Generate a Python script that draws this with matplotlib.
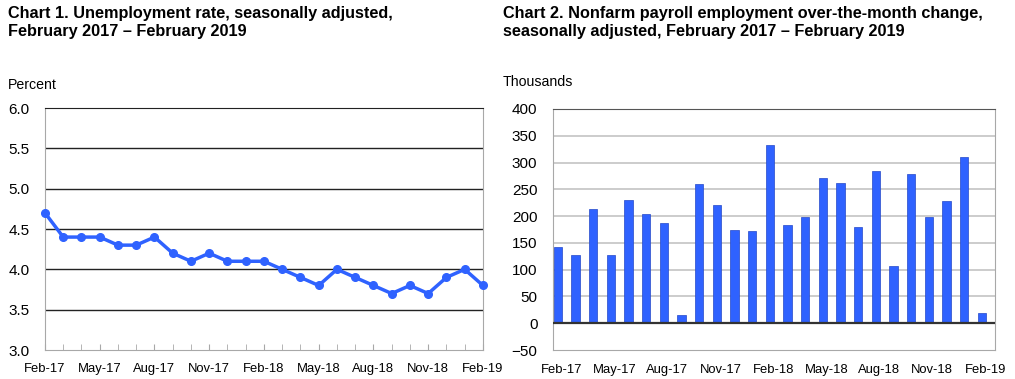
# BLS Employment Situation, Feb 2019: unemployment rate and payroll change.
import matplotlib.pyplot as plt
import numpy as np

plt.rcParams["font.family"] = ["Liberation Sans", "DejaVu Sans"]

MONTHS = [
    "Feb-17", "Mar-17", "Apr-17", "May-17", "Jun-17", "Jul-17", "Aug-17",
    "Sep-17", "Oct-17", "Nov-17", "Dec-17", "Jan-18", "Feb-18", "Mar-18",
    "Apr-18", "May-18", "Jun-18", "Jul-18", "Aug-18", "Sep-18", "Oct-18",
    "Nov-18", "Dec-18", "Jan-19", "Feb-19",
]

UNEMPLOYMENT_RATE = [
    4.7, 4.4, 4.4, 4.4, 4.3, 4.3, 4.4, 4.2, 4.1, 4.2, 4.1, 4.1, 4.1,
    4.0, 3.9, 3.8, 4.0, 3.9, 3.8, 3.7, 3.8, 3.7, 3.9, 4.0, 3.8,
]

PAYROLL_CHANGE = [
    142, 128, 214, 128, 230, 204, 188, 16, 260, 221, 174, 172, 332,
    184, 198, 272, 262, 179, 284, 107, 279, 198, 228, 311, 20,
]

UNEMP_TICKS = [3.0, 3.5, 4.0, 4.5, 5.0, 5.5, 6.0]
PAYROLL_TICKS = list(range(-50, 401, 50))

BLUE = "#2f62ff"
GREY = "#a8a8a8"

fig = plt.figure(figsize=(10.15, 3.79), dpi=100)

# Chart 1: unemployment rate
ax1 = fig.add_axes([0.0443, 0.0765, 0.4315, 0.6385])
x = np.arange(len(MONTHS))
ax1.plot(x, UNEMPLOYMENT_RATE, "-o", color=BLUE, lw=2.5, ms=5.5, clip_on=False, zorder=3)
ax1.set_xlim(0, len(MONTHS) - 1)
ax1.set_ylim(3.0, 6.0)
ax1.set_yticks(UNEMP_TICKS)
ax1.set_yticklabels([f"{v:.1f}" for v in UNEMP_TICKS])
for v in UNEMP_TICKS[1:-1]:
    ax1.axhline(v, color="#222222", lw=1.0, zorder=1)
ax1.set_xticks(x[::3])
ax1.set_xticklabels(MONTHS[::3])
ax1.set_xticks(x, minor=True)
ax1.tick_params(axis="x", which="both", direction="in", length=4, color=GREY, labelsize=9.4, pad=9)
ax1.tick_params(axis="y", length=0, labelsize=11, pad=11)
for side in ("left", "right", "bottom"):
    ax1.spines[side].set_color(GREY)
ax1.spines["top"].set_color("#222222")

# Chart 2: nonfarm payroll change
ax2 = fig.add_axes([0.5445, 0.0765, 0.4358, 0.636])
ax2.bar(x, PAYROLL_CHANGE, width=0.47, color=BLUE, edgecolor="#2448c8", lw=0.5, zorder=3)
ax2.set_xlim(-0.3, 24.75)
ax2.set_ylim(-50, 400)
ax2.set_yticks(PAYROLL_TICKS)
for v in PAYROLL_TICKS[1:-1]:
    if v != 0:
        ax2.axhline(v, color="#c8c8c8", lw=1.3, zorder=1)
ax2.axhline(0, color="#333333", lw=1.6, zorder=4)
ax2.set_xticks(x[::3] + 0.2)
ax2.set_xticklabels(MONTHS[::3])
ax2.tick_params(axis="x", length=0, labelsize=9.4, pad=10)
ax2.tick_params(axis="y", length=0, labelsize=11, pad=11)
for side in ("left", "right", "bottom"):
    ax2.spines[side].set_color(GREY)
ax2.spines["top"].set_color("#555555")

fig.text(0.008, 0.985, "Chart 1. Unemployment rate, seasonally adjusted,\nFebruary 2017 \u2013 February 2019",
         ha="left", va="top", fontsize=11.7, fontweight="bold", linespacing=1.3)
fig.text(0.4955, 0.985, "Chart 2. Nonfarm payroll employment over-the-month change,\nseasonally adjusted, February 2017 \u2013 February 2019",
         ha="left", va="top", fontsize=11.7, fontweight="bold", linespacing=1.3)
fig.text(0.008, 1 - 85 / 379, "Percent", ha="left", va="center", fontsize=10.2)
fig.text(0.4955, 1 - 82 / 379, "Thousands", ha="left", va="center", fontsize=10.2)

fig.savefig("out.png", dpi=100)
